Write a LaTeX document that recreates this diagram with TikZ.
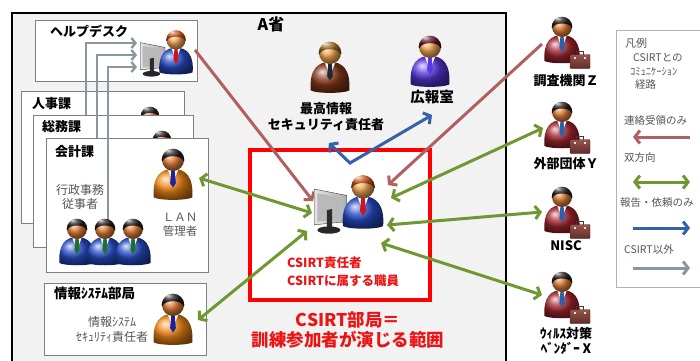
\documentclass[tikz,border=0pt]{standalone}
\usepackage{fontspec}
\setmainfont{Noto Sans CJK JP}
\usetikzlibrary{arrows.meta}

% line and box colours
\definecolor{cbrown}{RGB}{176,96,96}
\definecolor{cgreen}{RGB}{112,152,50}
\definecolor{cblue}{RGB}{52,98,170}
\definecolor{cgray}{RGB}{136,152,158}
\definecolor{bggray}{RGB}{242,242,242}
\definecolor{boxgray}{RGB}{128,128,128}
\definecolor{cred}{RGB}{255,0,0}
\definecolor{tred}{RGB}{235,20,20}
\definecolor{notegray}{RGB}{85,85,85}
% figure colours
\definecolor{skinL}{RGB}{246,168,82}
\definecolor{skinD}{RGB}{228,128,55}
\definecolor{hairK}{RGB}{38,32,30}
\definecolor{hairG}{RGB}{205,90,30}
\definecolor{hairB}{RGB}{165,115,40}
\definecolor{hairM}{RGB}{100,28,50}
\definecolor{suitB}{RGB}{40,78,205}
\definecolor{suitO}{RGB}{246,138,22}
\definecolor{suitR}{RGB}{165,38,48}
\definecolor{suitN}{RGB}{140,58,28}
\definecolor{suitP}{RGB}{90,55,225}
\definecolor{tieR}{RGB}{205,20,30}
\definecolor{tieN}{RGB}{25,35,160}
\definecolor{tieG}{RGB}{25,115,45}
\definecolor{tieT}{RGB}{45,95,175}
\definecolor{tieK}{RGB}{30,40,50}
\definecolor{caseL}{RGB}{150,85,75}
\definecolor{caseD}{RGB}{95,45,40}

\tikzset{
  % bust figure: suit / tie / skin / hair
  pics/person/.style args={#1/#2/#3/#4}{code={
    \shade[ball color=#1] (-1.75,3.4) .. controls (-1.9,1.5) and (-1.1,0.8) .. (0,0.8)
      .. controls (1.1,0.8) and (1.9,1.5) .. (1.75,3.4)
      .. controls (1.2,3.7) and (-1.2,3.7) .. cycle;
    \fill[white] (-0.5,0.8) -- (0.5,0.8) -- (0,2.1) -- cycle;
    \fill[#2] (-0.16,0.95) -- (0.16,0.95) -- (0.26,2.1) -- (0,2.5) -- (-0.26,2.1) -- cycle;
    \shade[ball color=#3] (0,0) circle (1);
    \begin{scope}
      \clip (0,0) circle (1.03);
      \shade[ball color=#4] (-1.2,-1.3) -- (1.2,-1.3) -- (1.2,0.1) -- (0.95,0.1)
        .. controls (0.8,-0.5) and (-0.8,-0.5) .. (-0.95,0.1) -- (-1.2,0.1) -- cycle;
    \end{scope}
  }},
  pics/briefcase/.style={code={
    \draw[line width=1.3pt, caseD] (-0.35,-0.55) -- (-0.35,-0.85) -- (0.35,-0.85) -- (0.35,-0.55);
    \shade[top color=caseL, bottom color=caseD, draw=caseD!70!black, line width=0.4pt,
      rounded corners=1pt] (-1,-0.55) rectangle (1,0.85);
    \fill[gray!25] (-0.6,-0.3) rectangle (-0.4,-0.1);
    \fill[gray!25] (0.4,-0.3) rectangle (0.6,-0.1);
  }},
  pics/monitor/.style={code={
    \shade[left color=gray!20, right color=gray!65, draw=gray!45!black, line width=0.4pt]
      (-16,-18) -- (15,-12) -- (15,13) -- (-16,16) -- cycle;
    \fill[gray!55] (-13,-14) -- (12,-9.5) -- (12,10.5) -- (-13,13) -- cycle;
    \fill[gray!35!black] (-4,2) -- (1,1) -- (1,20) -- (-4,20) -- cycle;
    \fill[gray!30!black] (-2,21) ellipse (11 and 3.5);
  }},
  deptbox/.style={draw=boxgray, line width=1pt, fill=white},
  arr/.style={line width=3pt},
  garr/.style={line width=2.4pt, draw=cgray, -{Straight Barb[length=4pt,width=10pt]}},
  onehead/.style={-{Straight Barb[length=5pt,width=13pt]}},
  twohead/.style={{Straight Barb[length=5pt,width=13pt]}-{Straight Barb[length=5pt,width=13pt]}},
  dept/.style={font=\bfseries\fontsize{13}{15}\selectfont, inner sep=0pt, anchor=west},
  note/.style={font=\fontsize{12}{14.5}\selectfont, text=notegray, inner sep=0pt, align=center},
  who/.style={font=\bfseries\fontsize{13}{16}\selectfont, inner sep=0pt, align=center},
  csirttxt/.style={font=\bfseries\fontsize{12.5}{18}\selectfont, text=tred, inner sep=0pt, align=left},
  bigred/.style={font=\bfseries\fontsize{17.5}{20}\selectfont, text=tred, inner sep=0pt, align=center},
  legtxt/.style={font=\fontsize{10.5}{12}\selectfont, text=notegray, inner sep=0pt, anchor=west},
}

\begin{document}
\begin{tikzpicture}[x=1pt, y=-1pt]
\useasboundingbox (0,0) rectangle (700,360);
\clip (0,0) rectangle (700,360);
\fill[white] (0,0) rectangle (700,360);

% ministry frame
\draw[line width=2pt, fill=bggray] (12,13) rectangle (506,380);
\node[font=\bfseries\fontsize{16}{18}\selectfont, inner sep=0pt] (tMin) at (271,24) {A省};

% help desk
\draw[deptbox] (35,20) rectangle (197,81);
\node[dept] (tHD) at (50,31) {ヘルプデスク};

% stacked departments with their routes to the help desk
\coordinate (g1s) at (86,170);  \coordinate (g1e) at (137,43);
\coordinate (g2s) at (97,200);  \coordinate (g2e) at (137,55);
\coordinate (g3s) at (108,222); \coordinate (g3e) at (137,67);

\draw[deptbox] (21,91) rectangle (184,223);
\node[dept] (tJinji) at (32,104) {人事課};
\pic[scale=9] at (150,116) {person=suitB/tieG/skinD/hairK};
\draw[garr] (g1s) |- (g1e);

\draw[deptbox] (33,115) rectangle (193,247);
\node[dept] (tSomu) at (42,127) {総務課};
\pic[scale=9] at (162,140) {person=suitB/tieG/skinD/hairK};
\draw[garr] (g2s) |- (g2e);

\draw[deptbox] (46,138) rectangle (208,272);
\node[dept] (tKaikei) at (55,152) {会計課};
\draw[garr] (g3s) |- (g3e);
\node[note] (tGyosei) at (80,197) {行政事務\\従事者};
\node[note, font=\fontsize{11.5}{14}\selectfont] (tLAN) at (180,225) {ＬＡＮ\\管理者};

% information systems bureau
\draw[deptbox] (44,283) rectangle (206,355);
\node[dept, font=\bfseries\fontsize{13.5}{15}\selectfont] (tJoho) at (54,293) {情報ｼｽﾃﾑ部局};
\node[note, font=\fontsize{12}{15}\selectfont] (tJohoSec) at (112,329.5) {情報ｼｽﾃﾑ\\ｾｷｭﾘﾃｨ責任者};

% CSIRT bureau
\draw[cred, line width=4pt, fill=white] (250,150) rectangle (430,300);
\node[csirttxt, anchor=west] (tCsirt) at (287,272) {CSIRT責任者\\CSIRTに属する職員};
\node[bigred] (tScope) at (348,330) {CSIRT部局＝\\訓練参加者が演じる範囲};

% connector end points
\coordinate (hdOut) at (195,50);  \coordinate (csL1) at (313,201);
\coordinate (zOut)  at (542,44);  \coordinate (csR1) at (388,185);
\coordinate (lanP)  at (199,178); \coordinate (csL2) at (312,213);
\coordinate (sysP)  at (198,320); \coordinate (csL3) at (307,231);
\coordinate (yP)    at (543,128); \coordinate (csR2) at (391,198);
\coordinate (nP)    at (542,212); \coordinate (csR3) at (387,225);
\coordinate (vP)    at (542,295); \coordinate (csR4) at (381,243);
\coordinate (bV)    at (350,163); \coordinate (cisoP) at (329,143);
\coordinate (prP)   at (432,115);

% incoming notices only
\draw[arr, cbrown, onehead] (hdOut) -- (csL1);
\draw[arr, cbrown, onehead] (zOut) -- (csR1);
% two-way exchanges
\draw[arr, cgreen, twohead] (lanP) -- (csL2);
\draw[arr, cgreen, twohead] (sysP) -- (csL3);
\draw[arr, cgreen, twohead] (yP) -- (csR2);
\draw[arr, cgreen, twohead] (nP) -- (csR3);
\draw[arr, cgreen, twohead] (vP) -- (csR4);
% reports and requests only
\draw[arr, cblue, twohead, line join=miter] (cisoP) -- (bV) -- (prP);

% figures
\pic[scale=0.8] at (153,57) {monitor};
\pic[scale=9.5] at (176,40) {person=suitB/tieR/skinL/hairG};
\pic[scale=11] at (173,160) {person=suitO/tieN/skinD/hairK};
\pic[scale=10] at (77,229) {person=suitB/tieG/skinD/hairK};
\pic[scale=10] at (105,229) {person=suitB/tieG/skinD/hairK};
\pic[scale=10] at (133,229) {person=suitB/tieG/skinD/hairK};
\pic[scale=11] at (173,305) {person=suitO/tieN/skinD/hairK};
\pic[scale=1.05] at (331,208) {monitor};
\pic[scale=11.5] at (363,187) {person=suitB/tieR/skinL/hairG};
\pic[scale=11] at (330,53) {person=suitN/tieK/skinL/hairB};
\pic[scale=11] at (430,47) {person=suitP/suitP/skinL/hairM};

% outside organisations
\foreach \py in {27,112,197,282}{
  \pic[scale=10] at (562,\py) {person=suitR/tieT/skinD/hairK};
  \pic[scale=10] at (580,\py+33) {briefcase};
}

\node[who] (tCiso) at (326,116.5) {最高情報\\セキュリティ責任者};
\node[who, font=\bfseries\fontsize{14.5}{16}\selectfont] (tPR) at (432,97) {広報室};
\node[who] (tZ) at (566,81) {調査機関Ｚ};
\node[who] (tY) at (566,164) {外部団体Ｙ};
\node[who] (tN) at (566,246) {NISC};
\node[who, font=\bfseries\fontsize{13}{15}\selectfont] (tV) at (566,340.5) {ｳｨﾙｽ対策\\ﾍﾞﾝﾀﾞｰ X};

% legend
\draw[draw=gray!60, line width=0.8pt, fill=white] (616,30) rectangle (720,287);
\node[legtxt, font=\fontsize{11}{12}\selectfont] (lgTitle) at (625,43) {凡例};
\node[legtxt] (lgL1) at (633,58) {CSIRTとの};
\node[legtxt] (lgL2) at (630,72) {ｺﾐｭﾆｹｰｼｮﾝ};
\node[legtxt] (lgL3) at (635,85) {経路};
\node[legtxt] (lgK1) at (624,120) {連絡受領のみ};
\node[legtxt] (lgK2) at (624,158) {双方向};
\node[legtxt] (lgK3) at (620,203) {報告・依頼のみ};
\node[legtxt] (lgK4) at (624,250) {CSIRT以外};
\coordinate (lg1a) at (690,137); \coordinate (lg1b) at (633,137);
\coordinate (lg2a) at (633,182); \coordinate (lg2b) at (690,182);
\coordinate (lg3a) at (633,228); \coordinate (lg3b) at (690,228);
\coordinate (lg4a) at (633,268); \coordinate (lg4b) at (690,268);
\draw[arr, cbrown, onehead] (lg1a) -- (lg1b);
\draw[arr, cgreen, twohead] (lg2a) -- (lg2b);
\draw[arr, cblue, onehead] (lg3a) -- (lg3b);
\draw[arr, cgray, onehead] (lg4a) -- (lg4b);
\end{tikzpicture}
\end{document}
